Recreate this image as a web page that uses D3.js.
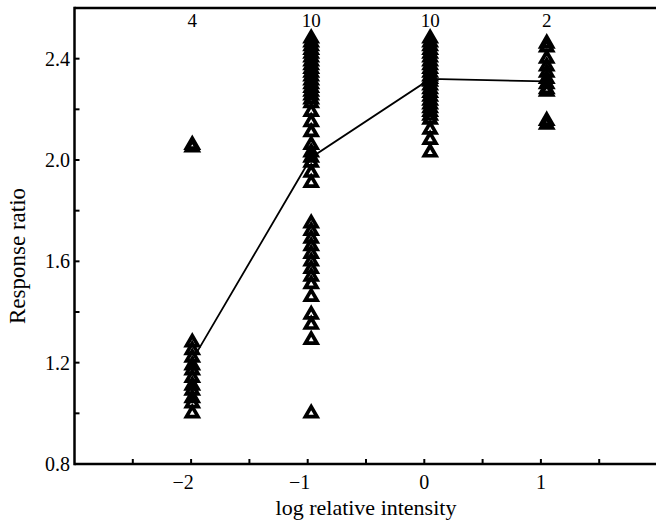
<!DOCTYPE html>
<html>
<head>
<meta charset="utf-8">
<title>Response ratio vs log relative intensity</title>
<script src="https://d3js.org/d3.v7.min.js"></script>
<style>
  body { margin: 0; background: #fff; }
  text { font-family: "Liberation Serif", "DejaVu Serif", serif; fill: #000; }
</style>
</head>
<body>
<div id="chart"></div>
<script>
// data
var columnX = [-1.99, -0.97, 0.05, 1.05];
var columnN = ["4", "10", "10", "2"];

var ratiosM2 = [2.06, 2.05, 1.28, 1.25, 1.22, 1.19, 1.17, 1.14, 1.11, 1.09, 1.06, 1.04, 1.00];
var ratiosM1 = [2.48, 2.465, 2.45, 2.435, 2.42, 2.405, 2.39, 2.375, 2.36, 2.345, 2.33, 2.315,
                2.30, 2.285, 2.27, 2.255, 2.24, 2.225, 2.19, 2.15, 2.11, 2.06, 2.03, 2.01,
                1.99, 1.95, 1.91, 1.75, 1.72, 1.69, 1.66, 1.63, 1.60, 1.57, 1.54, 1.51,
                1.46, 1.39, 1.35, 1.29, 1.00];
var ratios0 = [2.48, 2.465, 2.45, 2.435, 2.42, 2.405, 2.39, 2.375, 2.36, 2.345, 2.33, 2.32,
               2.31, 2.295, 2.28, 2.265, 2.25, 2.235, 2.22, 2.205, 2.19, 2.175, 2.16,
               2.12, 2.08, 2.03];
var ratios1 = [2.46, 2.445, 2.40, 2.37, 2.345, 2.32, 2.30, 2.28, 2.27, 2.155, 2.14];

var meanX = [-1.99, -0.97, 0.05, 1.05];
var meanY = [1.21, 2.01, 2.32, 2.31];

var xTicks = [-2.5, -2, -1.5, -1, -0.5, 0, 0.5, 1, 1.5];
var xLabels = [-2, -1, 0, 1];
var yTicks = [1.0, 1.2, 1.4, 1.6, 1.8, 2.0, 2.2, 2.4];
var yLabels = [0.8, 1.2, 1.6, 2.0, 2.4];

var W = 656, H = 523;

var svg = d3.select("#chart").append("svg")
  .attr("width", W)
  .attr("height", H);

var x = d3.scaleLinear().domain([-3, 2]).range([74.5, 657.5]);
var y = d3.scaleLinear().domain([0.8, 2.6]).range([464, 8]);

// frame: left, top and bottom (right side falls off the page)
svg.append("line").attr("x1", x(-3)).attr("x2", W).attr("y1", y(0.8)).attr("y2", y(0.8))
  .attr("stroke", "#000").attr("stroke-width", 2.5);
svg.append("line").attr("x1", x(-3)).attr("x2", W).attr("y1", y(2.6)).attr("y2", y(2.6))
  .attr("stroke", "#000").attr("stroke-width", 2.5);
svg.append("line").attr("x1", x(-3)).attr("x2", x(-3)).attr("y1", y(2.6) - 1.25).attr("y2", y(0.8) + 1.25)
  .attr("stroke", "#000").attr("stroke-width", 2.5);

// inward ticks
svg.selectAll(".xt").data(xTicks).enter().append("line")
  .attr("x1", function(d) { return x(d); })
  .attr("x2", function(d) { return x(d); })
  .attr("y1", y(0.8)).attr("y2", y(0.8) - 5)
  .attr("stroke", "#000").attr("stroke-width", 2);
svg.selectAll(".yt").data(yTicks).enter().append("line")
  .attr("x1", x(-3)).attr("x2", x(-3) + 5)
  .attr("y1", function(d) { return y(d); })
  .attr("y2", function(d) { return y(d); })
  .attr("stroke", "#000").attr("stroke-width", 2);

// tick labels
svg.selectAll(".xl").data(xLabels).enter().append("text")
  .attr("x", function(d) { return x(d) + (d < 0 ? -8 : 0); })
  .attr("y", 489)
  .attr("text-anchor", "middle")
  .style("font-size", "20px")
  .text(function(d) { return d < 0 ? "\u2212" + Math.abs(d) : d; });
svg.selectAll(".yl").data(yLabels).enter().append("text")
  .attr("x", 70)
  .attr("y", function(d) { return y(d); })
  .attr("dy", "0.35em")
  .attr("text-anchor", "end")
  .style("font-size", "20px")
  .text(function(d) { return d.toFixed(1); });

// axis titles
svg.append("text")
  .attr("x", 366).attr("y", 515)
  .attr("text-anchor", "middle")
  .style("font-size", "22px")
  .text("log relative intensity");
svg.append("text")
  .attr("transform", "translate(25,256) rotate(-90)")
  .attr("text-anchor", "middle")
  .style("font-size", "23px")
  .text("Response ratio");

// counts above each column
svg.selectAll(".n").data(columnN).enter().append("text")
  .attr("x", function(d, i) { return x(columnX[i]); })
  .attr("y", 27)
  .attr("text-anchor", "middle")
  .style("font-size", "19px")
  .text(function(d) { return d; });

// mean line
svg.append("path")
  .datum(d3.zip(meanX, meanY))
  .attr("fill", "none")
  .attr("stroke", "#000")
  .attr("stroke-width", 1.8)
  .attr("d", d3.line().x(function(d) { return x(d[0]); }).y(function(d) { return y(d[1]); }));

// points
var points = [];
[ratiosM2, ratiosM1, ratios0, ratios1].forEach(function(arr, i) {
  arr.forEach(function(v) { points.push({lx: columnX[i], r: v}); });
});

var tri = d3.symbol().type(d3.symbolTriangle).size(58);
svg.selectAll(".pt").data(points).enter().append("path")
  .attr("d", tri)
  .attr("transform", function(d) { return "translate(" + x(d.lx) + "," + y(d.r) + ")"; })
  .attr("fill", "none")
  .attr("stroke", "#000")
  .attr("stroke-width", 3.7);
</script>
</body>
</html>
